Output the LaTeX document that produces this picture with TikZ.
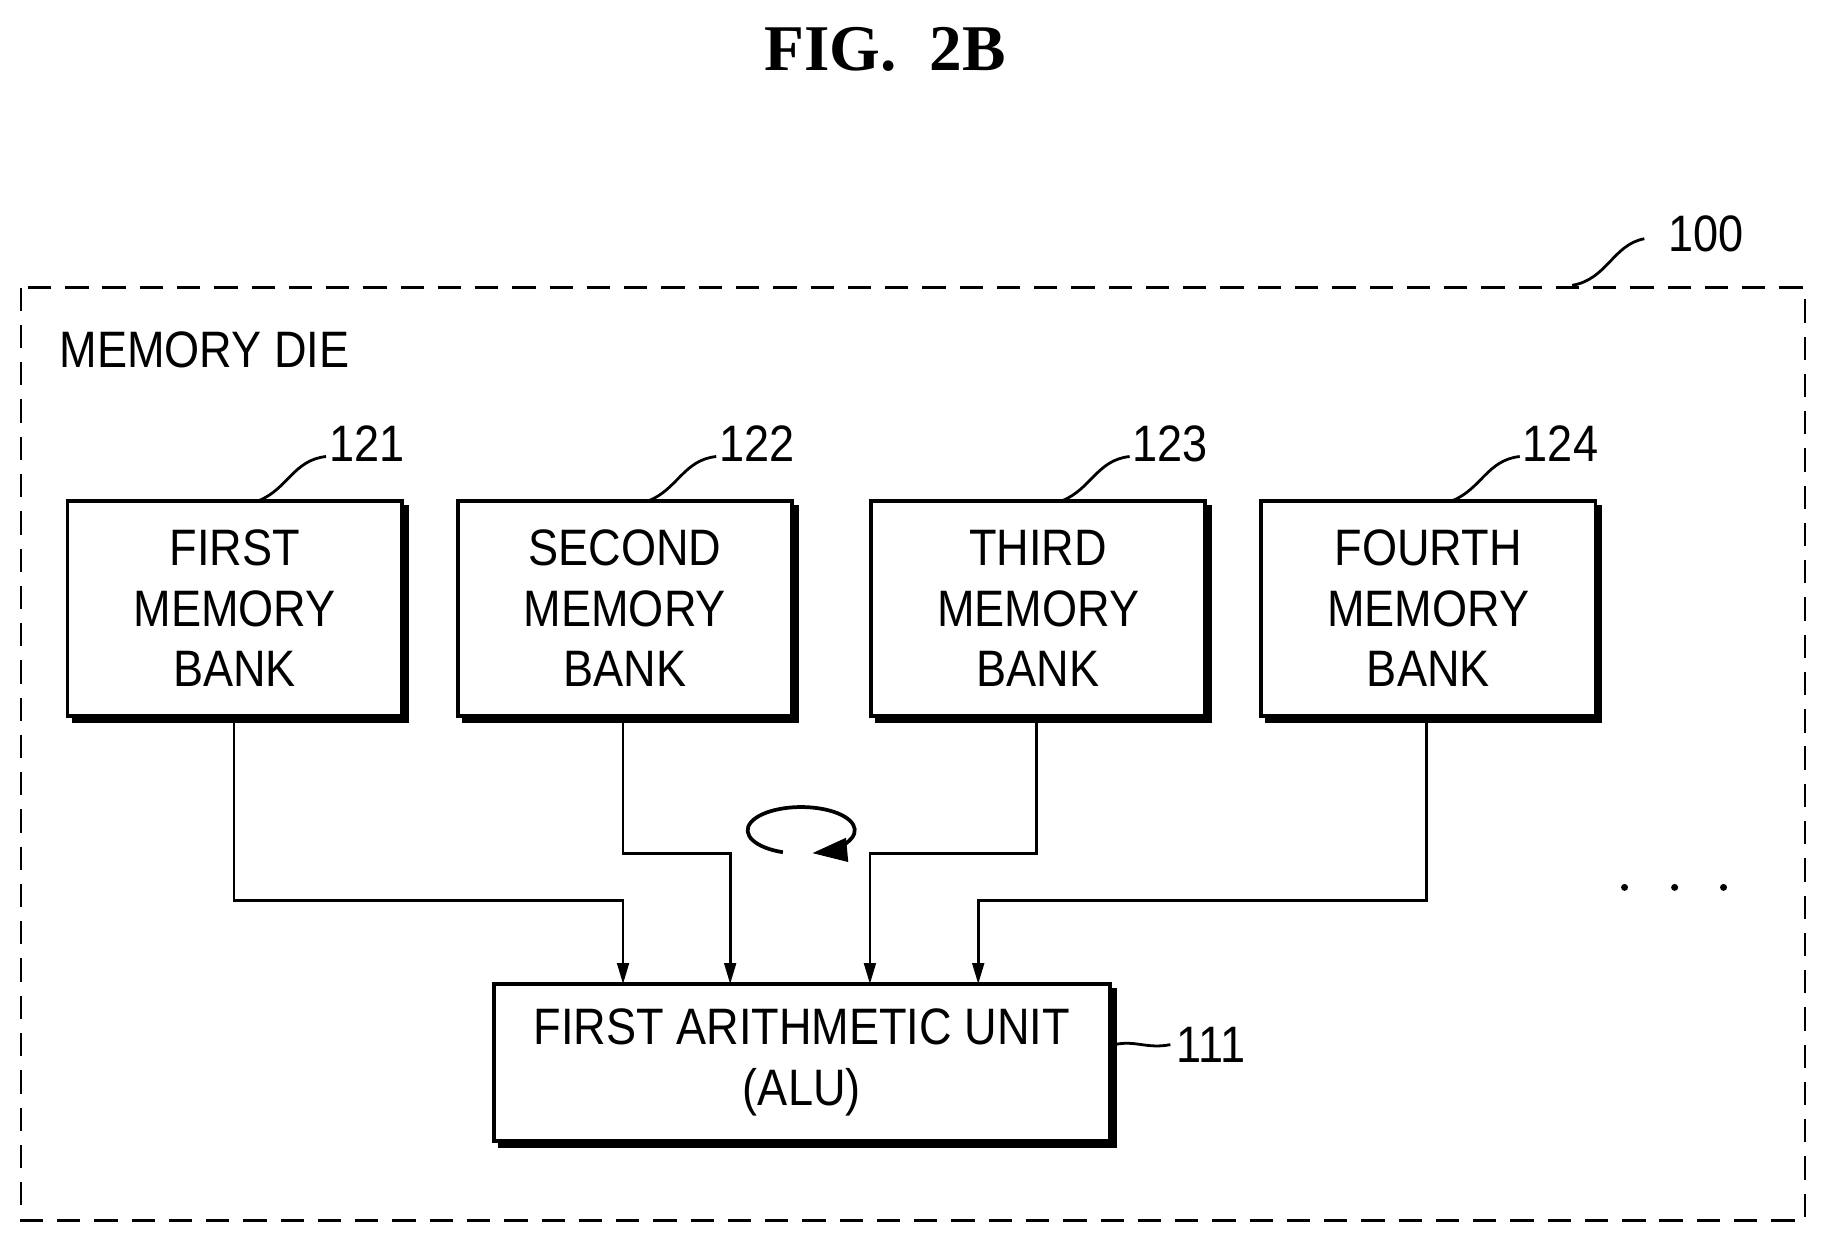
\documentclass[tikz,border=0pt]{standalone}
\usepackage{fontspec}
\setmainfont{Liberation Sans}[FakeStretch=0.88]
\newfontfamily\titlefont{Liberation Serif}
\usetikzlibrary{arrows.meta}
\begin{document}
\begin{tikzpicture}[x=0.5pt,y=-0.5pt,
  box/.style={draw,line width=1.6pt,minimum width=143.5pt,minimum height=92.5pt,align=center,inner sep=0pt,font=\fontsize{22}{26}\selectfont},
  shadow/.style={line width=2.4pt},
  lab/.style={font=\fontsize{22}{26}\selectfont},
  wire/.style={line width=1.2pt},
  arr/.style={wire,-{Triangle[length=9pt,width=5pt]}}]
\useasboundingbox (0,0) rectangle (1568,1067);
\node[font=\titlefont\bfseries\fontsize{28}{32}\selectfont] (title) at (760,42) {FIG.\ \ 2B};
\draw[dash pattern=on 10pt off 6pt,line width=1.2pt] (18,247) rectangle (1550,1048);
\node[lab,anchor=west] (die) at (44,300) {MEMORY DIE};
\node[lab] (l100) at (1465,201) {100};
\draw[wire] (1350,245) .. controls (1380,240) and (1385,210) .. (1412,205);
\node[box] (b1) at (201.5,522.5) {FIRST\\MEMORY\\BANK};
\node[box] (b2) at (536.5,522.5) {SECOND\\MEMORY\\BANK};
\node[box] (b3) at (891.5,522.5) {THIRD\\MEMORY\\BANK};
\node[box] (b4) at (1226.5,522.5) {FOURTH\\MEMORY\\BANK};
\foreach \n/\t/\x in {b1/121/222,b2/122/557,b3/123/912,b4/124/1247}{
  \node[lab] (l\t) at (\x+93,381) {\t};
  \draw[wire] (\x,430) .. controls (\x+25,420) and (\x+30,395) .. (\x+58,392);
  \draw[shadow] ([xshift=2.5pt,yshift=-1pt]\n.south west) -- ([xshift=1pt,yshift=-1pt]\n.south east) -- ([xshift=1pt,yshift=-2.5pt]\n.north east);
}
\node[draw,line width=1.6pt,minimum width=264.5pt,minimum height=67.5pt,align=center,inner sep=0pt,font=\fontsize{22}{26}\selectfont] (alu) at (688.5,912.5) {FIRST ARITHMETIC UNIT\\(ALU)};
\draw[shadow] ([xshift=2.5pt,yshift=-1pt]alu.south west) -- ([xshift=1pt,yshift=-1pt]alu.south east) -- ([xshift=1pt,yshift=-2.5pt]alu.north east);
\node[lab] (l111) at (1040,897) {111};
\draw[wire] (957,897) .. controls (975,893) and (985,901) .. (1005,897);
\draw[arr] (b1.south -| 201,0) -- (201,773) -- (535,773) -- (535,845);
\draw[arr] (b2.south -| 535,0) -- (535,733) -- (627,733) -- (627,845);
\draw[arr] (b3.south -| 890,0) -- (890,733) -- (747,733) -- (747,845);
\draw[arr] (b4.south -| 1225,0) -- (1225,773) -- (840,773) -- (840,845);
\coordinate (loopc) at (688,713);
\draw[line width=1.6pt,-{Triangle[length=15pt,width=10pt]}] (loopc) ++(110:46 and 20) arc (110:438:46 and 20);
\foreach \x in {1395,1438,1480} \fill (\x,762) circle (1.5pt);
\end{tikzpicture}
\end{document}
